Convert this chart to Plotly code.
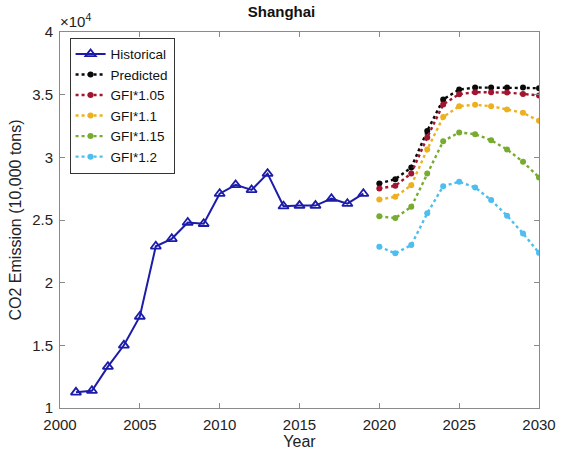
import plotly.graph_objects as go

hist_years = list(range(2001, 2020))
hist_vals = [11250, 11380, 13300, 15000, 17300, 22900, 23500, 24800, 24700, 27100,
             27800, 27400, 28700, 26100, 26150, 26150, 26700, 26300, 27100]

pred_years = list(range(2020, 2031))
predicted = [27920, 28260, 29190, 32110, 34620, 35410, 35570, 35570, 35570, 35570, 35520]
gfi_105 = [27520, 27730, 28720, 31590, 34220, 35040, 35200, 35200, 35170, 35060, 34940]
gfi_110 = [26640, 26850, 27780, 30630, 33210, 34080, 34190, 34080, 33820, 33550, 32910]
gfi_115 = [25290, 25150, 26050, 28720, 31290, 31990, 31850, 31370, 30630, 29640, 28400]
gfi_120 = [22870, 22340, 23000, 25530, 27700, 28050, 27600, 26590, 25340, 23930, 22380]

ytick_vals = [10000, 15000, 20000, 25000, 30000, 35000, 40000]
ytick_text = ["1", "1.5", "2", "2.5", "3", "3.5", "4"]
xtick_vals = [2000, 2005, 2010, 2015, 2020, 2025, 2030]

fig = go.Figure()
fig.add_trace(go.Scatter(x=hist_years, y=hist_vals, name="Historical", mode="lines+markers",
                         line=dict(color="rgb(28,28,170)", width=2),
                         marker=dict(symbol="triangle-up-open", size=9, color="rgb(28,28,170)",
                                     line=dict(width=1.8))))
series = [("Predicted", predicted, "rgb(10,10,10)"),
          ("GFI*1.05", gfi_105, "rgb(162,20,47)"),
          ("GFI*1.1", gfi_110, "rgb(237,177,32)"),
          ("GFI*1.15", gfi_115, "rgb(119,172,48)"),
          ("GFI*1.2", gfi_120, "rgb(77,190,238)")]
for name, vals, col in series:
    fig.add_trace(go.Scatter(x=pred_years, y=vals, name=name, mode="lines+markers",
                             line=dict(color=col, width=2.4, dash="dot"),
                             marker=dict(symbol="circle", size=6, color=col)))

axis_common = dict(showgrid=False, zeroline=False, showline=True, linecolor="#8a8a8a",
                   linewidth=1, mirror="ticks", ticks="inside", ticklen=5, automargin=False,
                   tickcolor="#8a8a8a", tickfont=dict(size=15, color="#222"))

fig.update_layout(
    width=563, height=450,
    margin=dict(l=60, r=24, t=32, b=42),
    paper_bgcolor="white", plot_bgcolor="white",
    font=dict(family="Liberation Sans, Arial, sans-serif", color="#222"),
    title=dict(text="<b>Shanghai</b>", x=0.5, xanchor="center", y=0.985, yanchor="top",
               font=dict(size=15, color="#111")),
    xaxis=dict(range=[2000, 2030], tickvals=xtick_vals, ticklabelstandoff=3,
               title=dict(text="Year", font=dict(size=16), standoff=1), **axis_common),
    yaxis=dict(range=[10000, 40000], tickvals=ytick_vals, ticktext=ytick_text,
               ticklabelstandoff=3,
               title=dict(text="CO2 Emission (10,000 tons)", font=dict(size=16), standoff=6),
               **axis_common),
    legend=dict(x=0.02, y=0.985, xanchor="left", yanchor="top",
                bgcolor="white", bordercolor="#333", borderwidth=1,
                font=dict(size=13.5, color="#111"), tracegroupgap=0, itemwidth=30),
    showlegend=True,
)
fig.add_annotation(text="×10<sup>4</sup>", xref="paper", yref="paper", x=-0.005, y=1.0,
                   xanchor="left", yanchor="bottom", showarrow=False,
                   font=dict(size=15, color="#222"))

fig.write_html("out.html", config={"displayModeBar": False},
               post_script="document.body.style.margin='0';")
